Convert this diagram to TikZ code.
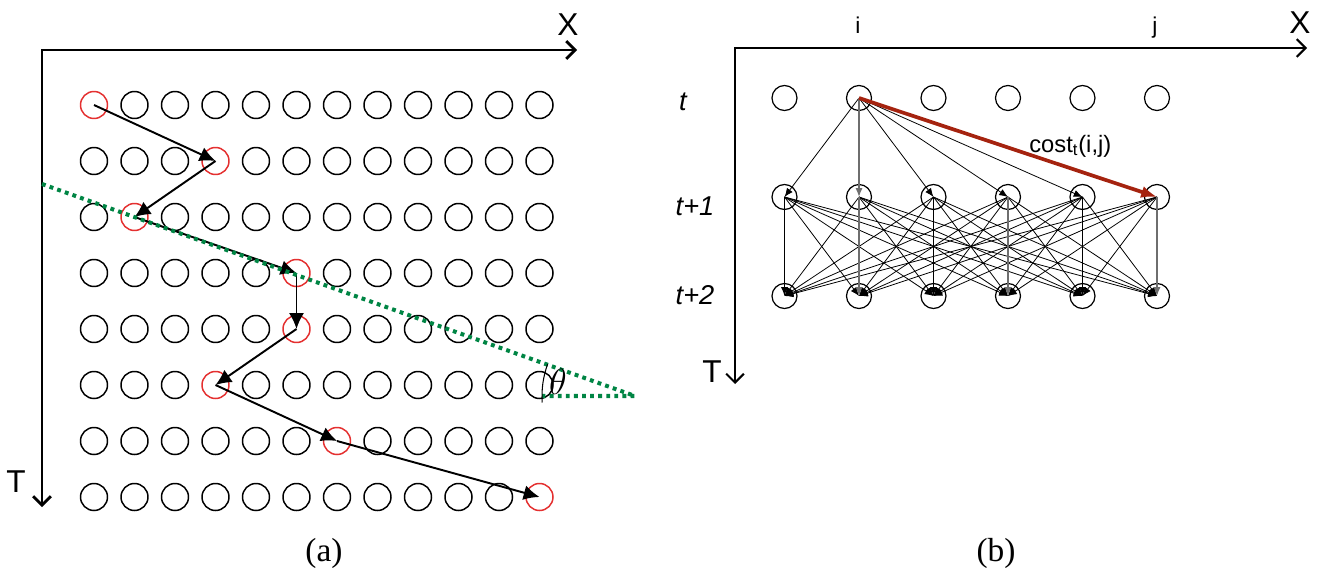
\documentclass[tikz,border=0pt]{standalone}
\usepackage{fontspec}
\setmainfont{Liberation Serif}
\newfontfamily\arialf{Liberation Sans}
\usetikzlibrary{arrows.meta}
\definecolor{pathred}{RGB}{228,48,48}
\definecolor{dotgreen}{RGB}{0,133,68}
\definecolor{costred}{RGB}{165,35,15}
\definecolor{edgegray}{RGB}{110,110,110}
\begin{document}
\begin{tikzpicture}[x=0.02cm,y=-0.02cm,
  gridc/.style={circle,draw,line width=0.85pt,minimum size=0.54cm,inner sep=0pt},
  red 1-1/.style={draw=pathred},
  red 2-4/.style={draw=pathred},
  red 3-2/.style={draw=pathred},
  red 4-6/.style={draw=pathred},
  red 5-6/.style={draw=pathred},
  red 6-4/.style={draw=pathred},
  red 7-7/.style={draw=pathred},
  red 8-12/.style={draw=pathred},
  netc/.style={circle,draw,line width=0.7pt,minimum size=0.5cm,inner sep=0pt},
  axisa/.style={line width=1.6pt,{Straight Barb[length=5pt,width=10pt]}-{Straight Barb[length=5pt,width=10pt]}},
  axisb/.style={line width=1.2pt,{Straight Barb[length=5pt,width=10pt]}-{Straight Barb[length=5pt,width=10pt]}},
  walk/.style={line width=1.1pt,-{Latex[length=9pt,width=8.5pt]}},
  thinedge/.style={line width=0.45pt,-{Latex[length=5pt,width=4pt]}},
  costedge/.style={line width=2.1pt,draw=costred,-{Latex[length=9pt,width=7pt]},color=costred},
  axlbl/.style={font=\arialf\fontsize{18}{20}\selectfont,anchor=base,inner sep=0pt},
  collbl/.style={font=\arialf\fontsize{13}{15}\selectfont,anchor=base,inner sep=0pt},
  rowlbl/.style={font=\arialf\itshape\fontsize{15.5}{17}\selectfont,anchor=base,inner sep=0pt},
  caplbl/.style={font=\fontsize{19}{21}\selectfont,anchor=base,inner sep=0pt}
]
\useasboundingbox (0,0) rectangle (1320,568);

% ---------------- panel (a) ----------------
\coordinate (oa) at (42,50);
\coordinate (xa) at (577,50);
\coordinate (ta) at (42,507);
\draw[axisa] (xa) -- (oa) -- (ta);
\node[axlbl] (Xa) at (568,35) {X};
\node[axlbl] (Ta) at (16,492) {T};

\foreach \r in {1,...,8}
  \foreach \c in {1,...,12}
    \node[gridc, red \r-\c/.try] (g\r-\c) at ({94+40.5*(\c-1)},{105+56*(\r-1)}) {};

\draw[walk] (g1-1.center) -- (g2-4.center);
\draw[walk] (g2-4.center) -- (g3-2.center);
\draw[walk] (g3-2.center) -- (g4-6.center);
\draw[walk] (g4-6.center) -- (g5-6.center);
\draw[walk] (g5-6.center) -- (g6-4.center);
\draw[walk] (g6-4.center) -- (g7-7.center);
\draw[walk] (g7-7.center) -- (g8-12.center);

\coordinate (gs) at (42,184);
\coordinate (ge) at (635,396);
\coordinate (gh) at (542,396);
\draw[dotgreen, line width=2.3pt, dash pattern=on 2.2pt off 2.4pt] (gs) -- (ge) -- (gh);
\draw[line width=0.6pt] ([shift={(200:93)}]ge) arc[start angle=200,end angle=176,radius=93];
\node[inner sep=0pt] (theta) at (558,382) {\fontsize{21}{21}\selectfont$\theta$};

\node[caplbl] (capa) at (324,561) {(a)};

% ---------------- panel (b) ----------------
\coordinate (ob) at (735,48);
\coordinate (xb) at (1307,48);
\coordinate (tb) at (735,384);
\draw[axisb] (xb) -- (ob) -- (tb);
\node[axlbl] (Xb) at (1300,33) {X};
\node[axlbl] (Tb) at (712,382) {T};
\node[collbl] (li) at (858,33) {i};
\node[collbl] (lj) at (1155,33) {j};
\node[rowlbl] (lt) at (683,111) {t};
\node[rowlbl] (lt1) at (695,215) {t+1};
\node[rowlbl] (lt2) at (695,304) {t+2};

\foreach \r/\y in {1/98,2/197,3/296}
  \foreach \c in {1,...,6}
    \node[netc] (n\r-\c) at ({784.5+74.5*(\c-1)},\y) {};

% edges from i at t to row t+1
\foreach \c in {1,3,4,5}
  \draw[thinedge] (n1-2.center) -- (n2-\c.center);
\draw[thinedge,edgegray,line width=0.8pt] (n1-2.center) -- (n2-2.center);
\draw[costedge] (n1-2.center) -- (n2-6.center);
\node[font=\arialf\fontsize{13.5}{15}\selectfont,anchor=base west,inner sep=0pt] (cost) at (1029,152) {cost\textsubscript{t}(i,j)};

% edges from row t+1 to row t+2
\foreach \a in {1,...,6}{
  \foreach \b in {1,...,6}{
    \ifnum\a=\b\relax\else
      \draw[thinedge] (n2-\a.center) -- (n3-\b.center);
    \fi
  }
}
\foreach \c in {1,3,5}
  \draw[thinedge,line width=0.6pt] (n2-\c.center) -- (n3-\c.center);
\foreach \c in {2,4,6}
  \draw[thinedge,edgegray,line width=0.8pt] (n2-\c.center) -- (n3-\c.center);

\node[caplbl] (capb) at (996,561) {(b)};
\end{tikzpicture}
\end{document}
